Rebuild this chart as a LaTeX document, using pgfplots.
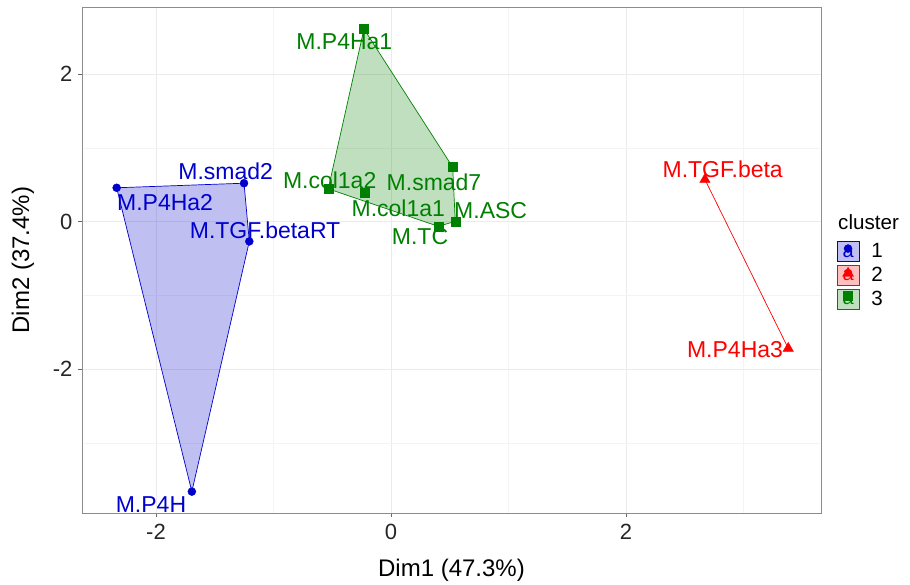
\documentclass[border=0pt]{standalone}
\usepackage{pgfplots}
\pgfplotsset{compat=1.18}
\usepackage{fontspec}
\setmainfont{Liberation Sans}
\definecolor{cblue}{RGB}{0,0,205}
\definecolor{cred}{RGB}{255,0,0}
\definecolor{cgreen}{RGB}{0,128,0}
\definecolor{gridmaj}{RGB}{235,235,235}
\definecolor{gridmin}{RGB}{244,244,244}
\begin{document}
\begin{tikzpicture}
\begin{axis}[
  name=ax,
  scale only axis,
  width=739pt, height=506pt,
  xmin=-2.63, xmax=3.66,
  ymin=-3.95, ymax=2.91,
  xtick={-2,0,2}, ytick={-2,0,2},
  minor xtick={-1,1,3}, minor ytick={-3,-1,1},
  xtick pos=bottom, ytick pos=left,
  grid=both,
  major grid style={draw=gridmaj, line width=0.8pt},
  minor grid style={draw=gridmin, line width=0.6pt},
  axis line style={draw=black!45, line width=0.8pt},
  tick align=outside,
  major tick length=4pt,
  minor tick length=0pt,
  tick style={draw=black!60, line width=0.8pt},
  /pgf/number format/assume math mode=true,
  ticklabel style={font=\fontsize{22}{24}\selectfont, text=black!85},
  xticklabel style={yshift=-4pt},
  yticklabel style={xshift=-2pt},
  xlabel={Dim1 (47.3\%)},
  ylabel={Dim2 (37.4\%)},
  label style={font=\fontsize{24}{26}\selectfont},
  xlabel style={at={(axis description cs:0.5,-0.1126)}, anchor=center},
  ylabel style={at={(axis description cs:-0.0798,0.5)}, anchor=center},
  clip=false,
  legend style={at={(axis description cs:1.021,0.5375)}, anchor=north west,
    draw=none, fill=none, inner sep=0pt, row sep=3pt,
    font=\fontsize{20.6}{22}\selectfont,
    nodes={inner xsep=5pt, inner ysep=1pt}},
  legend cell align=left,
]
% hulls
\addplot[draw=cblue, line width=0.7pt, fill=cblue, fill opacity=0.25, forget plot]
  coordinates {(-2.335,0.459) (-1.251,0.521) (-1.206,-0.268) (-1.695,-3.66)} -- cycle;
\addplot[draw=cgreen, line width=0.7pt, fill=cgreen, fill opacity=0.25, forget plot]
  coordinates {(-0.230,2.612) (0.525,0.739) (0.547,0.004) (0.403,-0.064) (-0.534,0.445)} -- cycle;
\addplot[draw=cred, line width=0.7pt, forget plot]
  coordinates {(2.672,0.571) (3.381,-1.718)};
% points
\addplot[only marks, mark=*, mark size=4pt, color=cblue, forget plot]
  coordinates {(-2.335,0.459) (-1.251,0.521) (-1.206,-0.268) (-1.695,-3.66)};
\addplot[only marks, mark=triangle*, mark size=6pt, color=cred, forget plot]
  coordinates {(2.672,0.571) (3.381,-1.718)};
\addplot[only marks, mark=square*, mark size=4.5pt, color=cgreen, forget plot]
  coordinates {(-0.230,2.612) (-0.534,0.445) (-0.221,0.390) (0.525,0.739) (0.547,0.004) (0.403,-0.064)};
% labels
\begin{scope}[every node/.style={font=\fontsize{23}{24}\selectfont, inner sep=0pt, anchor=center}]
\node[text=cblue] at (axis cs:-1.407,0.684) {M.smad2};
\node[text=cblue] at (axis cs:-1.923,0.263) {M.P4Ha2};
\node[text=cblue] at (axis cs:-1.072,-0.122) {M.TGF.betaRT};
\node[text=cblue] at (axis cs:-2.043,-3.837) {M.P4H};
\node[text=cgreen] at (axis cs:-0.397,2.44) {M.P4Ha1};
\node[text=cgreen] at (axis cs:-0.522,0.558) {M.col1a2};
\node[text=cgreen] at (axis cs:0.366,0.540) {M.smad7};
\node[text=cgreen] at (axis cs:0.062,0.186) {M.col1a1};
\node[text=cgreen] at (axis cs:0.848,0.150) {M.ASC};
\node[text=cgreen] at (axis cs:0.247,-0.208) {M.TC};
\node[text=cred] at (axis cs:2.823,0.707) {M.TGF.beta};
\node[text=cred] at (axis cs:2.928,-1.728) {M.P4Ha3};
\end{scope}
% legend
\node[anchor=west, font=\fontsize{20.6}{22}\selectfont, inner sep=0pt] at (axis description cs:1.023,0.5751) {cluster};
\addlegendimage{legend image code/.code={
  \draw[draw=cblue, fill=cblue, fill opacity=0.25, line width=0.7pt] (0pt,-10pt) rectangle (22pt,10pt);
  \node[text=cblue, font=\fontsize{20}{20}\selectfont, inner sep=0pt, anchor=center] at (11pt,-1pt) {a};
  \fill[cblue] (11pt,3pt) circle (4pt);}}
\addlegendentry{\hspace*{7pt}1}
\addlegendimage{legend image code/.code={
  \draw[draw=cred, fill=cred, fill opacity=0.25, line width=0.7pt] (0pt,-10pt) rectangle (22pt,10pt);
  \node[text=cred, font=\fontsize{20}{20}\selectfont, inner sep=0pt, anchor=center] at (11pt,-1pt) {a};
  \fill[cred] (11pt,8pt) -- (5.5pt,-1pt) -- (16.5pt,-1pt) -- cycle;}}
\addlegendentry{\hspace*{7pt}2}
\addlegendimage{legend image code/.code={
  \draw[draw=cgreen, fill=cgreen, fill opacity=0.25, line width=0.7pt] (0pt,-10pt) rectangle (22pt,10pt);
  \node[text=cgreen, font=\fontsize{20}{20}\selectfont, inner sep=0pt, anchor=center] at (11pt,-1pt) {a};
  \fill[cgreen] (6.5pt,-1.5pt) rectangle (15.5pt,7.5pt);}}
\addlegendentry{\hspace*{7pt}3}
\end{axis}
\path ([xshift=-82pt,yshift=-72pt]ax.south west) -- ([xshift=89pt,yshift=7pt]ax.north east);
\end{tikzpicture}
\end{document}
